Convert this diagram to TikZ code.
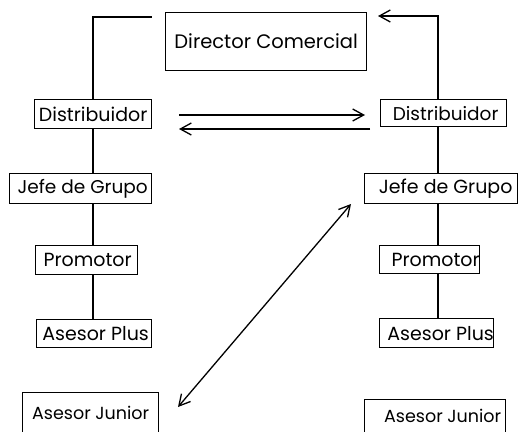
\documentclass[tikz,border=0pt]{standalone}
\usepackage{fontspec}
\setmainfont{Poppins}
\usetikzlibrary{arrows.meta}
\newcommand{\boxtext}[3]{\makebox[#1]{\hspace*{#2}#3}}
\newcommand{\fs}[1]{\fontsize{#1}{#1}\selectfont}
\begin{document}
\begin{tikzpicture}[x=1pt,y=-1pt,line width=1.3pt,
  box/.style={draw,line width=1.3pt,anchor=north west,inner sep=0pt},
  barb/.style={-{Straight Barb[length=11pt,width=12pt]}},
  dbarb/.style={{Straight Barb[length=11pt,width=12pt]}-{Straight Barb[length=11pt,width=12pt]}},
]
\useasboundingbox (0,0) rectangle (519,431);
\clip (0,0) rectangle (519,431);
\coordinate (cL) at (93,0);
\coordinate (cR) at (438,0);
% boxes
\node[box,font=\fs{19.5},minimum width=201pt,minimum height=58pt] (dir) at (165,12) {\boxtext{201pt}{0pt}{Director Comercial}};
\node[box,font=\fs{19},minimum width=117pt,minimum height=29pt] (d1) at (34,99) {\boxtext{117pt}{0pt}{Distribuidor}};
\node[box,font=\fs{18.5},minimum width=126pt,minimum height=27pt] (d2) at (380,99) {\boxtext{126pt}{4pt}{Distribuidor}};
\node[box,font=\fs{18.5},minimum width=142pt,minimum height=30pt] (j1) at (9,173) {\boxtext{142pt}{4pt}{Jefe de Grupo}};
\node[box,font=\fs{19},minimum width=153pt,minimum height=30pt] (j2) at (364,173) {\boxtext{153pt}{9pt}{Jefe de Grupo}};
\node[box,font=\fs{19},minimum width=102pt,minimum height=29pt] (p1) at (35,245) {\boxtext{102pt}{2pt}{Promotor}};
\node[box,font=\fs{19},minimum width=100pt,minimum height=28pt] (p2) at (379,245) {\boxtext{100pt}{12pt}{Promotor}};
\node[box,font=\fs{19},minimum width=115pt,minimum height=28pt] (a1) at (36,319) {\boxtext{115pt}{3pt}{Asesor Plus}};
\node[box,font=\fs{19},minimum width=114pt,minimum height=29pt] (a2) at (379,318) {\boxtext{114pt}{8pt}{Asesor Plus}};
\node[box,font=\fs{17.5},minimum width=136pt,minimum height=40pt] (u1) at (22,392) {\boxtext{136pt}{0pt}{Asesor Junior}};
\node[box,font=\fs{17.5},minimum width=141pt,minimum height=40pt] (u2) at (364,399) {\raisebox{7pt}{\boxtext{141pt}{15pt}{Asesor Junior}}};
% left chain
\coordinate (tlc) at (93,17);
\coordinate (tle) at (152,17);
\draw (d1.north -| cL) -- (tlc) -- (tle);
\draw (d1.south -| cL) -- (j1.north -| cL);
\draw (j1.south -| cL) -- (p1.north -| cL);
\draw (p1.south -| cL) -- (a1.north -| cL);
% right chain
\coordinate (trc) at (438,16);
\coordinate (tre) at (378,16);
\draw[barb] (d2.north -| cR) -- (trc) -- (tre);
\draw (d2.south -| cR) -- (j2.north -| cR);
\draw (j2.south -| cR) -- (p2.north -| cR);
\draw (p2.south -| cR) -- (a2.north -| cR);
% horizontal arrows
\coordinate (h1s) at (179,115);
\coordinate (h1e) at (365,115);
\coordinate (h2s) at (370,129);
\coordinate (h2e) at (179,129);
\draw[barb] (h1s) -- (h1e);
\draw[barb] (h2s) -- (h2e);
% diagonal
\coordinate (g1) at (178,407);
\coordinate (g2) at (351,204);
\draw[dbarb] (g1) -- (g2);
\end{tikzpicture}
\end{document}
